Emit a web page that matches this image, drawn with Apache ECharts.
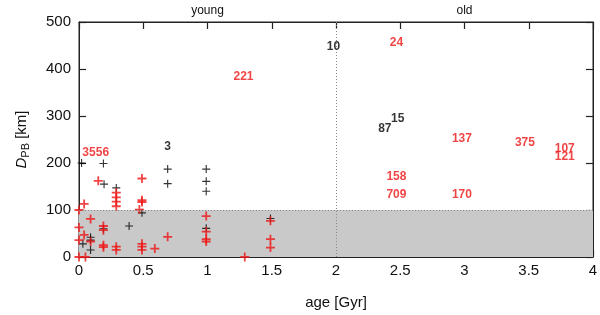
<!DOCTYPE html>
<html><head><meta charset="utf-8">
<script src="https://cdn.jsdelivr.net/npm/echarts@6/dist/echarts.min.js"></script>
<style>html,body{margin:0;padding:0;background:#fff}#c{width:600px;height:315px}</style>
</head><body><div id="c"></div>
<script>
const xTicks = [0, 4, 0.5];
const yTicks = [0, 500, 100];
const blackPts = [[0.02,200],[0.19,199],[0.69,187],[0.69,156],[0.195,155],[0.29,147],[0.49,94],[0.39,66],[0.19,60],[0.09,42],[0.09,36],[0.03,28],[0.09,15],[0.99,187],[0.99,161],[0.99,140],[0.99,61],[1.49,82]];
const redPts = [[0.15,162],[0.29,137],[0.29,127],[0.29,118],[0.29,108],[0.49,167],[0.49,121],[0.49,117],[0.04,113],[0,100],[0.47,101],[0.09,81],[0.19,66],[0.19,57],[0,63],[0.04,47],[0.09,33],[0,36],[0.19,25],[0.19,21],[0.29,22],[0.29,15],[0.49,28],[0.49,22],[0.49,15],[0.59,18],[0.69,43],[0,0],[0.05,0],[0.99,87],[0.99,54],[0.99,38],[0.99,33],[1.29,0],[1.49,77],[1.49,38],[1.49,20]];
const redLabels = [['3556',0.13,223],['221',1.28,383],['24',2.47,455],['137',2.98,251],['375',3.47,243],['107',3.78,230],['121',3.78,213],['158',2.47,170],['709',2.47,132],['170',2.98,132]];
const blackLabels = [['3',0.69,234],['10',1.98,447],['87',2.38,274],['15',2.48,294]];
const shadeRange = [0, 100];
const dividerAge = 2;
const topLabels = {1:'young', 3:'old'};

const RED = '#ee1515', BLK = '#000';
const plusThick = 'path://M4,0H6V10H4Z M0,4H10V6H0Z';
const plusThin = 'path://M4.3,0H5.7V10H4.3Z M0,4.3H10V5.7H0Z';
const FONT = 'Liberation Sans, Arial, sans-serif';

function labelSeries(arr, color, ax){
  return {type:'scatter', symbolSize:0, silent:true, z:5, xAxisIndex:ax, yAxisIndex:ax,
    data: arr.map(a=>({name:a[0], value:[a[1],a[2]]})),
    label:{show:true, position:'inside', formatter:p=>p.name, color:color, fontWeight:'bold', fontSize:12, fontFamily:FONT}};
}
function axLine(){ return {show:true, onZero:false, lineStyle:{color:'#222',width:1}}; }
function axTick(){ return {show:true, inside:true, length:7, interval:0, lineStyle:{color:'#222',width:1.2}}; }
const chart = echarts.init(document.getElementById('c'));
chart.setOption({
  animation:false,
  grid:{left:79, right:7, top:22, bottom:58, outerBoundsMode:'none', containLabel:false, show:true, borderColor:'#222', borderWidth:1, backgroundColor:'transparent'},
  xAxis:[
    {type:'value', gridIndex:0, position:'bottom', min:xTicks[0], max:xTicks[1], interval:xTicks[2], splitLine:{show:false},
      axisLine:axLine(), axisTick:axTick(),
      name:'age [Gyr]', nameLocation:'middle', nameGap:38,
      nameTextStyle:{fontSize:15, color:'#111', fontFamily:FONT},
      axisLabel:{fontSize:15, color:'#111', margin:6, fontFamily:FONT}},
    {type:'value', gridIndex:0, position:'top', min:xTicks[0], max:xTicks[1], interval:xTicks[2], splitLine:{show:false},
      axisLine:axLine(), axisTick:axTick(),
      axisLabel:{show:true, fontSize:12, color:'#111', margin:5, fontFamily:FONT, formatter:v=>topLabels[v]||' '}}
  ],
  yAxis:[
    {type:'value', gridIndex:0, min:yTicks[0], max:yTicks[1], interval:yTicks[2], position:'left', splitLine:{show:false},
     axisLine:axLine(), axisTick:axTick(),
     axisLabel:{fontSize:15,color:'#111',margin:8,fontFamily:FONT},
     name:'{i|D}{s|PB} [km]', nameLocation:'middle', nameGap:48,
     nameTextStyle:{fontSize:15,color:'#111',fontFamily:FONT, rich:{i:{fontStyle:'italic',fontSize:15,fontFamily:FONT,color:'#111'}, s:{fontSize:11,fontFamily:FONT,color:'#111',padding:[7,0,0,0]}}}},
    {type:'value', gridIndex:0, min:yTicks[0], max:yTicks[1], interval:yTicks[2], position:'right', splitLine:{show:false},
     axisLine:axLine(), axisTick:axTick(), axisLabel:{show:false}}
  ],
  series:[
    {type:'scatter', data:[], silent:true, xAxisIndex:0, yAxisIndex:0,
     markArea:{silent:true, itemStyle:{color:'#c9c9c9'}, data:[[{yAxis:shadeRange[0]},{yAxis:shadeRange[1]}]]},
     markLine:{silent:true, symbol:'none', label:{show:false}, lineStyle:{color:'#888', type:[1,2], width:1},
       data:[{yAxis:shadeRange[1]},{xAxis:dividerAge}]}},
    {type:'scatter', data:blackPts, symbol:plusThin, symbolSize:8, itemStyle:{color:BLK}, z:3},
    {type:'scatter', data:redPts, symbol:plusThick, symbolSize:9, itemStyle:{color:RED}, z:4},
    labelSeries(redLabels, RED, 1),
    labelSeries(blackLabels, BLK, 1)
  ]
});
</script></body></html>
